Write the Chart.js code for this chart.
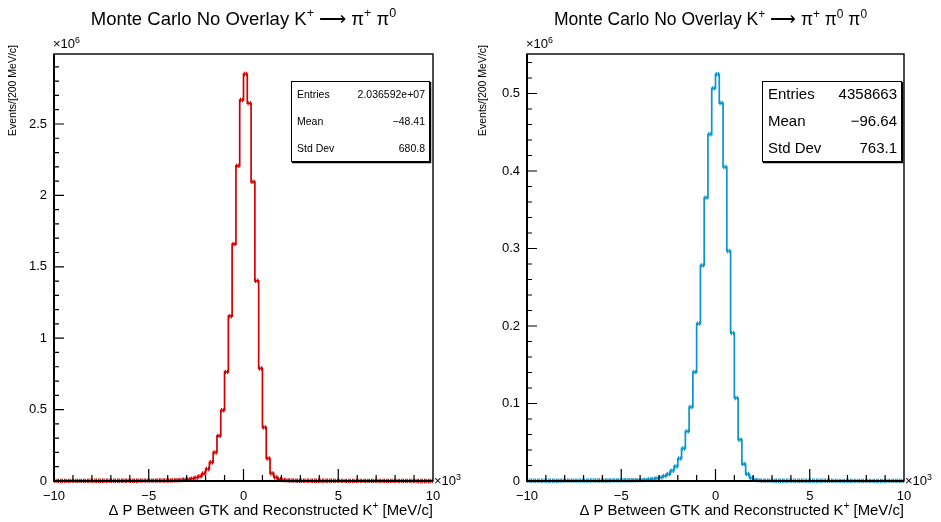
<!DOCTYPE html>
<html>
<head>
<meta charset="utf-8">
<title>GTK momentum difference</title>
<script src="https://cdn.jsdelivr.net/npm/chart.js@4.4.1/dist/chart.umd.min.js"></script>
<style>
	body { margin: 0; background: #fff; }
	#row { display: flex; width: 941px; height: 522px; }
	canvas { display: block; }
</style>
</head>
<body>
<div id="row">
	<canvas id="kpi2Chart" width="470" height="522"></canvas>
	<canvas id="kpi3Chart" width="471" height="522"></canvas>
</div>
<script>
const FONT = "'Liberation Sans', Arial, Helvetica, sans-serif";

// binning: 100 bins of 200 MeV/c between -10 and 10 GeV/c
const binLow = -10000;
const binHigh = 10000;
const binWidth = 200;

// K+ -> pi+ pi0, events per bin
const kpi2Counts = [
	800, 850, 880, 950, 1000, 1020, 1100, 1150, 1180, 1250,
	1300, 1380, 1420, 1500, 1600, 1650, 1750, 1850, 1950, 2050,
	2150, 2250, 2400, 2450, 2600, 2700, 2850, 3000, 3200, 3400,
	3800, 4500, 5500, 7000, 9000, 11000, 16000, 23000, 33000, 52000,
	84000, 131000, 200000, 316000, 495000, 764000, 1154000, 1659000, 2207000, 2668000,
	2850000, 2645000, 2095000, 1402000, 788000, 375000, 158000, 53000, 26000, 13000,
	7000, 4500, 3200, 2600, 2200, 1900, 1800, 1700, 1600, 1550,
	1450, 1400, 1350, 1300, 1200, 1150, 1100, 1050, 1000, 950,
	920, 880, 850, 800, 780, 740, 700, 680, 650, 620,
	600, 580, 560, 540, 520, 500, 480, 470, 450, 440,
];

// K+ -> pi+ pi0 pi0, events per bin
const kpi3Counts = [
	300, 310, 320, 330, 340, 350, 360, 380, 400, 420,
	440, 460, 480, 500, 520, 540, 560, 590, 620, 650,
	680, 710, 750, 790, 830, 880, 930, 990, 1050, 1120,
	1200, 1500, 2000, 2600, 3400, 4600, 6500, 9000, 13300, 18800,
	29000, 42000, 64000, 95500, 140600, 203100, 278300, 365700, 447400, 506700,
	524800, 487700, 405200, 296800, 191000, 107100, 53300, 21900, 9000, 3900,
	1500, 800, 500, 450, 420, 400, 380, 360, 340, 330,
	320, 310, 300, 290, 280, 270, 260, 250, 240, 235,
	230, 225, 220, 215, 210, 205, 200, 195, 190, 185,
	180, 178, 175, 172, 170, 168, 165, 162, 160, 158,
];

// labelled ticks
const xTicks = [-10000, -5000, 0, 5000, 10000];
const kpi2YTicks = [0, 0.5e6, 1e6, 1.5e6, 2e6, 2.5e6];
const kpi3YTicks = [0, 0.1e6, 0.2e6, 0.3e6, 0.4e6, 0.5e6];

const statLabels = ['Entries', 'Mean', 'Std Dev'];
const kpi2Stats = ['2.036592e+07', '\u221248.41', '680.8'];
const kpi3Stats = ['4358663', '\u221296.64', '763.1'];

// [text, superscript]
const kpi2Title = [['Monte Carlo No Overlay K', false], ['+', true], [' \u27f6 \u03c0', false], ['+', true], [' \u03c0', false], ['0', true]];
const kpi3Title = kpi2Title.concat([[' \u03c0', false], ['0', true]]);
const xTitle = [['\u0394 P Between GTK and Reconstructed K', false], ['+', true], [' [MeV/c]', false]];
const yTitle = 'Events/[200 MeV/c]';

const toSteps = (counts) => {
	const points = counts.map((c, i) => ({ x: binLow + i * binWidth, y: c }));
	points.push({ x: binHigh, y: counts[counts.length - 1] });
	return points;
};

const fmt = (v, unit) => String(parseFloat((v / unit).toFixed(3))).replace('-', '\u2212');

const drawRich = (ctx, parts, x, y, size, align) => {
	const fontFor = (sup) => `${sup ? size * 0.68 : size}px ${FONT}`;
	const widths = parts.map(([text, sup]) => {
		ctx.font = fontFor(sup);
		return ctx.measureText(text).width;
	});
	const total = widths.reduce((a, b) => a + b, 0);
	let cx = align === 'center' ? x - total / 2 : align === 'right' ? x - total : x;
	ctx.textAlign = 'left';
	ctx.textBaseline = 'alphabetic';
	parts.forEach(([text, sup], i) => {
		ctx.font = fontFor(sup);
		ctx.fillText(text, cx, sup ? y - size * 0.42 : y);
		cx += widths[i];
	});
};

// frame, inward ticks, error caps, titles and stats box
const histDecor = {
	id: 'histDecor',
	afterDatasetsDraw(chart, args, opts) {
		const { ctx, chartArea: area, scales: { x, y } } = chart;
		ctx.save();

		// caps at both edges of every bin
		ctx.strokeStyle = opts.color;
		ctx.lineWidth = 1.2;
		ctx.beginPath();
		opts.counts.forEach((c, i) => {
			const lo = binLow + i * binWidth;
			const x0 = x.getPixelForValue(lo) + 0.8;
			const x1 = x.getPixelForValue(lo + binWidth) - 0.8;
			const py = y.getPixelForValue(c);
			ctx.moveTo(x0, py - 2.2);
			ctx.lineTo(x0, py + 2.2);
			ctx.moveTo(x1, py - 2.2);
			ctx.lineTo(x1, py + 2.2);
		});
		ctx.stroke();

		ctx.strokeStyle = '#000';
		ctx.lineWidth = 1.4;
		ctx.strokeRect(area.left, area.top, area.right - area.left, area.bottom - area.top);
		ctx.lineWidth = 2;
		ctx.beginPath();
		ctx.moveTo(area.left, area.top);
		ctx.lineTo(area.left, area.bottom);
		ctx.lineTo(area.right, area.bottom);
		ctx.stroke();

		ctx.lineWidth = 1.2;
		ctx.beginPath();
		for (let v = binLow + 1000; v < binHigh; v += 1000) {
			const px = x.getPixelForValue(v);
			const len = v % 5000 === 0 ? 12 : 6;
			ctx.moveTo(px, area.bottom);
			ctx.lineTo(px, area.bottom - len);
		}
		const minor = opts.yStep / 5;
		for (let k = 1; k * minor < opts.yMax; k++) {
			const py = y.getPixelForValue(k * minor);
			const len = k % 5 === 0 ? 10 : 5;
			ctx.moveTo(area.left, py);
			ctx.lineTo(area.left + len, py);
		}
		ctx.stroke();
		ctx.restore();
	},
	afterDraw(chart, args, opts) {
		const { ctx, chartArea: area } = chart;
		ctx.save();
		ctx.fillStyle = '#000';

		drawRich(ctx, opts.title, (area.left + area.right) / 2 + opts.titleShift, 25, opts.titleSize, 'center');
		drawRich(ctx, [['\u00d710', false], ['6', true]], area.left - 1, 48, 13, 'left');
		drawRich(ctx, [['\u00d710', false], ['3', true]], area.right + 1, 485, 13, 'left');
		drawRich(ctx, xTitle, area.right, 515, 14.9, 'right');

		ctx.save();
		ctx.translate(13, 45);
		ctx.rotate(-Math.PI / 2);
		ctx.font = `10.5px ${FONT}`;
		ctx.textAlign = 'right';
		ctx.textBaseline = 'middle';
		ctx.fillText(yTitle, 0, 0);
		ctx.restore();

		// statistics box
		const b = opts.box;
		ctx.fillStyle = '#fff';
		ctx.fillRect(b.left, b.top, b.right - b.left, b.bottom - b.top);
		ctx.strokeStyle = '#000';
		ctx.lineWidth = 1;
		ctx.strokeRect(b.left + 0.5, b.top + 0.5, b.right - b.left, b.bottom - b.top);
		ctx.lineWidth = 1.5;
		ctx.beginPath();
		ctx.moveTo(b.left + 1, b.bottom + 1.5);
		ctx.lineTo(b.right + 1.5, b.bottom + 1.5);
		ctx.lineTo(b.right + 1.5, b.top + 1);
		ctx.stroke();

		ctx.fillStyle = '#000';
		ctx.font = `${b.size}px ${FONT}`;
		ctx.textBaseline = 'middle';
		const rowH = (b.bottom - b.top) / statLabels.length;
		statLabels.forEach((label, i) => {
			const ry = b.top + rowH * (i + 0.5) + 1;
			ctx.textAlign = 'left';
			ctx.fillText(label, b.left + 6, ry);
			ctx.textAlign = 'right';
			ctx.fillText(opts.stats[i], b.right - 4, ry);
		});
		ctx.restore();
	},
};

const makeConfig = (counts, cfg) => ({
	type: 'line',
	data: {
		datasets: [{
			data: toSteps(counts),
			borderColor: cfg.color,
			borderWidth: 1.7,
			pointRadius: 0,
			stepped: 'before',
			fill: false,
		}],
	},
	options: {
		responsive: false,
		animation: false,
		devicePixelRatio: 1,
		layout: { padding: { top: 54, right: cfg.padRight, bottom: 0, left: 0 } },
		plugins: {
			legend: { display: false },
			tooltip: { enabled: false },
			histDecor: cfg,
		},
		scales: {
			x: {
				type: 'linear',
				min: binLow,
				max: binHigh,
				afterFit: (scale) => { scale.height = 41; },
				afterBuildTicks: (scale) => { scale.ticks = xTicks.map((v) => ({ value: v })); },
				grid: { display: false, drawTicks: false },
				border: { display: false },
				ticks: {
					autoSkip: false,
					maxRotation: 0,
					padding: 8,
					color: '#000',
					font: { family: FONT, size: 13 },
					callback: (v) => fmt(v, 1000),
				},
			},
			y: {
				min: 0,
				max: cfg.yMax,
				afterFit: (scale) => { scale.width = cfg.axisLeft; },
				afterBuildTicks: (scale) => { scale.ticks = cfg.yTicks.map((v) => ({ value: v })); },
				grid: { display: false, drawTicks: false },
				border: { display: false },
				ticks: {
					autoSkip: false,
					padding: 7,
					color: '#000',
					font: { family: FONT, size: 13 },
					callback: (v) => fmt(v, 1e6),
				},
			},
		},
	},
	plugins: [histDecor],
});

const drawChart = (id, config) => {
	const ctx = document.getElementById(id).getContext('2d');
	return new Chart(ctx, config);
};

drawChart('kpi2Chart', makeConfig(kpi2Counts, {
	counts: kpi2Counts,
	color: '#d40000',
	yMax: 2.99e6,
	yStep: 0.5e6,
	yTicks: kpi2YTicks,
	axisLeft: 54,
	padRight: 37,
	title: kpi2Title,
	titleSize: 18.5,
	titleShift: 0,
	stats: kpi2Stats,
	box: { left: 291, top: 81, right: 429, bottom: 161, size: 10.5 },
}));

drawChart('kpi3Chart', makeConfig(kpi3Counts, {
	counts: kpi3Counts,
	color: '#0a96cc',
	yMax: 0.551e6,
	yStep: 0.1e6,
	yTicks: kpi3YTicks,
	axisLeft: 57,
	padRight: 37,
	title: kpi3Title,
	titleSize: 17.5,
	titleShift: -5,
	stats: kpi3Stats,
	box: { left: 292, top: 81, right: 431, bottom: 161, size: 15 },
}));
</script>
</body>
</html>
